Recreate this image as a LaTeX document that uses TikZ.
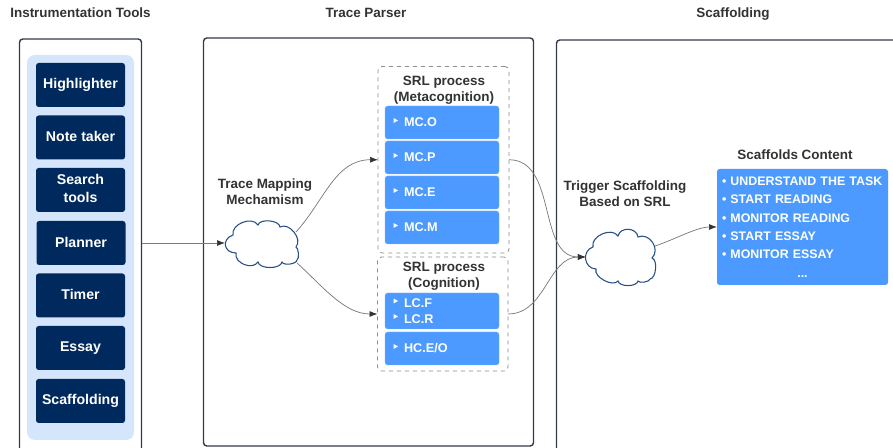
\documentclass[tikz,border=0pt]{standalone}
\usepackage{fontspec}
\setmainfont{Liberation Sans}
\usetikzlibrary{arrows.meta}
\def\px{0.75pt}
\newcommand{\blt}{\hspace*{1.5pt}•\ }
\definecolor{txt}{HTML}{333333}
\definecolor{navy}{HTML}{002A5E}
\definecolor{pale}{HTML}{D5E6FC}
\definecolor{sky}{HTML}{4C9AFF}
\definecolor{edge}{HTML}{333B47}
\definecolor{wire}{HTML}{7A7A7A}
\definecolor{cloudline}{HTML}{264F85}
\tikzset{
  sized/.style 2 args={minimum width=#1*\px,minimum height=#2*\px,inner sep=0pt,outer sep=0pt},
  outerbox/.style={draw=edge,line width=1.1pt,rounded corners=2.5pt,fill=white},
  panel/.style={fill=pale,rounded corners=6pt},
  tool/.style={fill=navy,rounded corners=2pt,text=white,align=center,font=\fontsize{10.6pt}{13.5pt}\selectfont\bfseries},
  head/.style={text=txt,align=center,inner sep=0pt,font=\fontsize{10.1pt}{12.3pt}\selectfont\bfseries},
  group/.style={draw=black!45,dashed,line width=0.6pt,rounded corners=3pt},
  item/.style={fill=sky,draw=sky!70!white,line width=0.3pt,rounded corners=2pt,text=white,align=left,
    text width=76*\px,inner xsep=19*\px,inner ysep=0pt,outer sep=0pt,minimum width=114*\px,
    font=\fontsize{9.5pt}{12pt}\selectfont\bfseries},
  wirearrow/.style={draw=wire,line width=0.55pt,-{Latex[length=6pt,width=4.5pt,color=txt]}},
  cloudshape/.style={draw=cloudline,line width=0.8pt,fill=white},
  tri/.style={fill=white,draw=none},
  lobe/.style={bend left=80,looseness=#1}
}
\begin{document}
\begin{tikzpicture}[x=\px,y=-\px]
\useasboundingbox (0,0) rectangle (893,448);
\clip (0,0) rectangle (893,448);
% headers
\node[head,anchor=base] (h1) at (80.5,18) {Instrumentation Tools};
\node[head,anchor=base] (h2) at (366,18) {Trace Parser};
\node[head,anchor=base] (h3) at (733,18) {Scaffolding};
% outer frames
\node[outerbox,sized={122}{430}] (outerA) at (80.5,254) {};
\node[outerbox,sized={330}{408}] (outerB) at (368.5,242) {};
\node[outerbox,sized={380}{430}] (outerC) at (746.5,255) {};
% tools
\node[panel,sized={107}{385}] (pan) at (80.5,247.5) {};
\node[tool,sized={89}{44}] (t1) at (80.5,85) {\raisebox{-0.7pt}{Highlighter}};
\node[tool,sized={89}{44}] (t2) at (80.5,137.5) {\raisebox{1.4pt}{Note taker}};
\node[tool,sized={89}{44}] (t3) at (80.5,190) {\raisebox{1.1pt}{\begin{tabular}{@{}c@{}}Search\\tools\end{tabular}}};
\node[tool,sized={89}{44}] (t4) at (81,243) {\raisebox{1.4pt}{Planner}};
\node[tool,sized={89}{44}] (t5) at (80.5,295.5) {\raisebox{1.4pt}{Timer}};
\node[tool,sized={89}{44}] (t6) at (80.5,348) {Essay};
\node[tool,sized={89}{44}] (t7) at (80.5,401) {Scaffolding};
% SRL groups
\node[group,sized={131}{186.5}] (meta) at (443.5,159.75) {};
\node[group,sized={130.5}{114}] (cog) at (442.75,314) {};
\node[head] (metat) at (444,90) {SRL process\\(Metacognition)};
\node[head] (cogt) at (444,276.5) {SRL process\\(Cognition)};
\node[item,minimum height=33*\px] (mco) at (442,122.5) {MC.O};
\node[item,minimum height=33*\px] (mcp) at (442,157.5) {MC.P};
\node[item,minimum height=33*\px] (mce) at (442,192.5) {MC.E};
\node[item,minimum height=33*\px] (mcm) at (442,227.5) {MC.M};
\node[item,minimum height=36*\px] (lc) at (442,311) {LC.F\\LC.R};
\node[item,minimum height=33*\px] (hc) at (442,348.5) {HC.E/O};
\foreach \yy in {120.5,155.5,190.5,225.5,301,316.5,346.5}{
  \fill[tri] (393.5,\yy-2.5) -- (398,\yy) -- (393.5,\yy+2.5) -- cycle;
}
% labels
\node[head] (lab1) at (265,191.5) {Trace Mapping\\Mechamism};
\node[head] (lab2) at (625,193.5) {Trigger Scaffolding\\Based on SRL};
\node[head] (lab3) at (795,155) {Scaffolds Content};
% scaffold box
\node[fill=sky,rounded corners=2pt,text=white,align=left,inner xsep=3*\px,inner ysep=0pt,outer sep=0pt,
  text width=165*\px,minimum height=116*\px,font=\fontsize{9.3pt}{13.75pt}\selectfont\bfseries] (sc) at (802.5,227) {%
  \blt UNDERSTAND THE TASK\\
  \blt START READING\\
  \blt MONITOR READING\\
  \blt START ESSAY\\
  \blt MONITOR ESSAY\\
  \makebox[\linewidth][c]{...}};
% clouds
\node[inner sep=0pt,outer sep=0pt,sized={73}{46}] (c1) at (261.5,243) {};
\draw[cloudshape] (236,253) to[lobe=1.75] (233,235) to[lobe=1.05] (258,225) to[lobe=0.8] (280,227)
  to[lobe=1.05] (296,247) to[lobe=0.5] (297,260) to[lobe=0.7] (282,262)
  to[lobe=0.8] (258,262) to[lobe=1.1] (236,253) -- cycle;
\node[inner sep=0pt,outer sep=0pt,sized={69.5}{56}] (c2) at (620.5,257) {};
\draw[cloudshape] (596,269) to[lobe=1.4] (593,247) to[lobe=1.05] (618,236) to[lobe=1.25] (638,237)
  to[lobe=1.25] (652,258) to[lobe=0.75] (650,279) to[lobe=0.6] (638,281)
  to[lobe=0.8] (618,281) to[lobe=0.85] (596,269) -- cycle;
% connectors
\coordinate (c1a) at (296,232);
\coordinate (c1b) at (297,263);
\coordinate (c2a) at (655,246);
\draw[wirearrow] (outerA.east |- c1.west) -- (c1.west);
\draw[wirearrow] (c1a) to[out=48,in=180,looseness=1] (meta.west);
\draw[wirearrow] (c1b) to[out=-42,in=180,looseness=0.9] (cog.west);
\draw[wirearrow] (meta.east) to[out=0,in=180,looseness=1] (c2.west);
\draw[wirearrow] (cog.east) to[out=0,in=180,looseness=1] (c2.west);
\draw[wirearrow] (c2a) to[out=18,in=180,looseness=0.8] (sc.west);
\end{tikzpicture}
\end{document}
